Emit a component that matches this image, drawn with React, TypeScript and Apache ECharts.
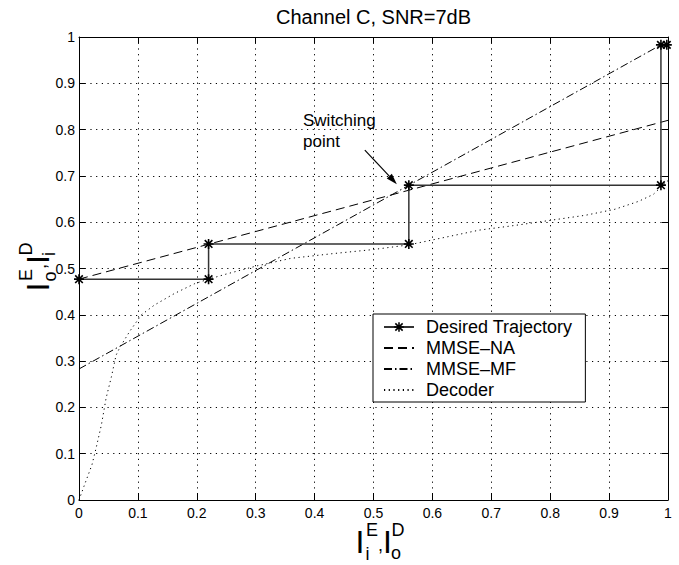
import React, { useEffect, useRef } from "react";
import * as echarts from "echarts";

// ---- data ----
const titleText = "Channel C, SNR=7dB";
const seriesNames = ["Desired Trajectory", "MMSE\u2013NA", "MMSE\u2013MF", "Decoder"];

const trajectoryX = [0, 0.22, 0.22, 0.56, 0.56, 0.988, 0.988, 0.998];
const trajectoryY = [0.477, 0.477, 0.553, 0.553, 0.68, 0.68, 0.983, 0.983];

const mmseNaX = [0, 1];
const mmseNaY = [0.477, 0.82];

const mmseMfX = [0, 0.988];
const mmseMfY = [0.283, 0.983];

const decoderX = [0, 0.01, 0.022, 0.029, 0.038, 0.046, 0.055, 0.063, 0.07, 0.086, 0.106, 0.128, 0.162, 0.196, 0.22, 0.25, 0.3, 0.36, 0.43, 0.5, 0.56, 0.62, 0.68, 0.74, 0.8, 0.86, 0.91, 0.95, 0.975, 1.0];
const decoderY = [0.0, 0.035, 0.076, 0.112, 0.162, 0.22, 0.266, 0.313, 0.331, 0.364, 0.4, 0.421, 0.446, 0.467, 0.477, 0.488, 0.505, 0.522, 0.532, 0.541, 0.551, 0.567, 0.583, 0.593, 0.604, 0.615, 0.628, 0.645, 0.66, 0.69];

const switchingPoint = [0.56, 0.68];
const annotationLines = ["Switching", "point"];

const axisMin = 0;
const axisMax = 1;
const axisStep = 0.1;

const zip = (xs: number[], ys: number[]) => xs.map((x, i) => [x, ys[i]]);

const FONT = "'Liberation Sans', Arial, Helvetica, sans-serif";

const asterisk =
  "path://M0,4.2H10V5.8H0Z M4.2,0H5.8V10H4.2Z M1.77,0.63L9.37,8.23L8.23,9.37L0.63,1.77Z M8.23,0.63L9.37,1.77L1.77,9.37L0.63,8.23Z";

function txt(text: string, x: number, y: number, size: number, align: string) {
  return {
    type: "text",
    x,
    y,
    silent: true,
    style: {
      text,
      fontSize: size,
      fontFamily: FONT,
      fill: "#000",
      align,
      textAlign: align,
      verticalAlign: "middle",
      textVerticalAlign: "middle",
    },
  };
}

// label "I_a^b, I_c^d" laid out in local coordinates (origin at first I's cap centre)
function axisTitle(sub1: string, sup1: string, sub2: string, sup2: string) {
  return [
    txt("I", 0, 1.5, 32, "center"),
    txt(sup1, 6, -10.5, 18, "left"),
    txt(sub1, 5.5, 13.5, 18, "left"),
    txt(",", 18, 4, 18, "left"),
    txt("I", 27.5, 1.5, 32, "center"),
    txt(sup2, 31.5, -10.5, 18, "left"),
    txt(sub2, 31, 12.5, 18, "left"),
  ];
}

function makeXAxis(position: string, showLabels: boolean) {
  return {
    type: "value",
    position,
    min: axisMin,
    max: axisMax,
    interval: axisStep,
    axisLine: { show: true, onZero: false, lineStyle: { color: "#000", width: 1 } },
    axisTick: { show: true, inside: true, length: 6, lineStyle: { color: "#000", width: 1 } },
    axisLabel: { show: showLabels, color: "#000", fontSize: 14, fontFamily: FONT, margin: 6 },
    splitLine: showLabels
      ? { show: true, lineStyle: { color: "#000", width: 1, type: [1.2, 4.5] } }
      : { show: false },
  };
}

function makeYAxis(position: string, showLabels: boolean) {
  return {
    type: "value",
    position,
    min: axisMin,
    max: axisMax,
    interval: axisStep,
    axisLine: { show: true, onZero: false, lineStyle: { color: "#000", width: 1 } },
    axisTick: { show: true, inside: true, length: 6, lineStyle: { color: "#000", width: 1 } },
    axisLabel: { show: showLabels, color: "#000", fontSize: 14, fontFamily: FONT, margin: 4 },
    splitLine: showLabels
      ? { show: true, lineStyle: { color: "#000", width: 1, type: [1.2, 4.5] } }
      : { show: false },
  };
}

const hiddenSymbol = { color: "rgba(0,0,0,0)", opacity: 0, borderWidth: 0 };

export default function App() {
  const ref = useRef<HTMLDivElement>(null);

  useEffect(() => {
    if (!ref.current) return;
    const chart = echarts.init(ref.current, null, { renderer: "svg" });

    chart.setOption({
      animation: false,
      backgroundColor: "#fff",
      title: {
        text: titleText,
        left: 373.5,
        top: 7,
        padding: 0,
        textAlign: "center",
        textStyle: { fontSize: 20, fontWeight: "normal", color: "#000", fontFamily: FONT },
      },
      grid: {
        left: 79,
        right: 11,
        top: 37,
        bottom: 65,
        containLabel: false,
        outerBoundsMode: "none",
      },
      xAxis: [makeXAxis("bottom", true), makeXAxis("top", false)],
      yAxis: [makeYAxis("left", true), makeYAxis("right", false)],
      legend: {
        orient: "vertical",
        left: 373,
        top: 314,
        padding: [4, 13, 3, 10],
        itemGap: 3,
        itemWidth: 30,
        itemHeight: 12,
        selectedMode: false,
        backgroundColor: "#fff",
        borderColor: "#000",
        borderWidth: 1,
        borderRadius: 0,
        textStyle: { fontSize: 18, color: "#000", fontFamily: FONT, padding: [0, 0, 0, 7] },
        data: [
          { name: seriesNames[0] },
          { name: seriesNames[1], itemStyle: hiddenSymbol },
          { name: seriesNames[2], itemStyle: hiddenSymbol },
          { name: seriesNames[3], itemStyle: hiddenSymbol },
        ],
      },
      series: [
        {
          name: seriesNames[0],
          type: "line",
          xAxisIndex: 0,
          yAxisIndex: 0,
          data: zip(trajectoryX, trajectoryY),
          symbol: asterisk,
          symbolSize: 10,
          showAllSymbol: true,
          itemStyle: { color: "#000" },
          lineStyle: { color: "#333", width: 1.5 },
          z: 5,
        },
        {
          name: seriesNames[1],
          type: "line",
          data: zip(mmseNaX, mmseNaY),
          symbol: "none",
          itemStyle: { color: "#000" },
          lineStyle: { color: "#000", width: 1, type: [9, 5] },
        },
        {
          name: seriesNames[2],
          type: "line",
          data: zip(mmseMfX, mmseMfY),
          symbol: "none",
          itemStyle: { color: "#000" },
          lineStyle: { color: "#000", width: 1, type: [8, 3, 1.5, 3] },
        },
        {
          name: seriesNames[3],
          type: "line",
          data: zip(decoderX, decoderY),
          symbol: "none",
          itemStyle: { color: "#000" },
          lineStyle: { color: "#000", width: 1, type: [1.2, 3.5] },
        },
      ],
    });

    const p = chart.convertToPixel({ gridIndex: 0 }, switchingPoint) as number[];
    const tip = [p[0] - 12, p[1] - 1];
    const tail = [tip[0] - 32, tip[1] - 34];
    const dx = tip[0] - tail[0];
    const dy = tip[1] - tail[1];
    const len = Math.sqrt(dx * dx + dy * dy);
    const ux = dx / len;
    const uy = dy / len;
    const headLen = 11;
    const headHalf = 3.5;
    const base = [tip[0] - ux * headLen, tip[1] - uy * headLen];

    chart.setOption({
      graphic: [
        {
          type: "text",
          x: 303,
          y: 110,
          silent: true,
          style: {
            text: annotationLines.join("\n"),
            fontSize: 17,
            lineHeight: 21,
            fontFamily: FONT,
            fill: "#000",
            align: "left",
            textAlign: "left",
            verticalAlign: "top",
            textVerticalAlign: "top",
          },
        },
        {
          type: "line",
          silent: true,
          shape: { x1: tail[0], y1: tail[1], x2: base[0], y2: base[1] },
          style: { stroke: "#000", lineWidth: 1.2 },
        },
        {
          type: "polygon",
          silent: true,
          shape: {
            points: [
              tip,
              [base[0] - uy * headHalf, base[1] + ux * headHalf],
              [base[0] + uy * headHalf, base[1] - ux * headHalf],
            ],
          },
          style: { fill: "#000" },
        },
        {
          type: "group",
          x: 360,
          y: 540.5,
          children: axisTitle("i", "E", "o", "D"),
        },
        {
          type: "group",
          x: 36,
          y: 287,
          rotation: Math.PI / 2,
          children: axisTitle("o", "E", "i", "D"),
        },
      ],
    });

    return () => chart.dispose();
  }, []);

  return (
    <div
      ref={ref}
      style={{ position: "fixed", left: 0, top: 0, width: 679, height: 565, background: "#fff" }}
    />
  );
}
